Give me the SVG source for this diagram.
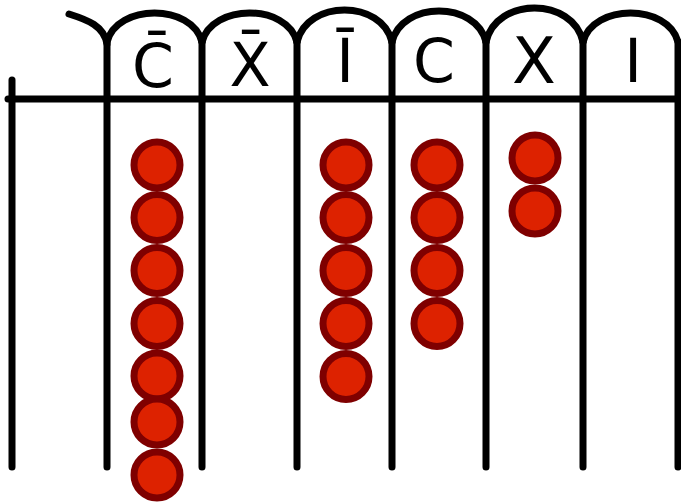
<svg xmlns="http://www.w3.org/2000/svg" width="681" height="502" viewBox="0 0 681 502">
<style>
.ln{fill:none;stroke:#000;stroke-width:7;stroke-linecap:round;stroke-linejoin:round}
.lbl{font-family:"DejaVu Sans","Liberation Sans",sans-serif;font-weight:normal;font-size:60px;fill:#000;text-anchor:middle}
.ctr{fill:#DD2200;stroke:#7F0000;stroke-width:7}
</style>
<rect width="681" height="502" fill="#fff"/>
<g id="board">
<path class="ln" d="M107,42 C117,3.3 192,3.3 202,42"/>
<path class="ln" d="M202,42 C212,3.3 287,3.3 297,42"/>
<path class="ln" d="M297,42 C307,-0.7 382,-0.7 392,42"/>
<path class="ln" d="M392,42 C402,0.6 476,0.6 486,42"/>
<path class="ln" d="M486,42 C496,-3.4 573,-3.4 583,42"/>
<path class="ln" d="M583,42 C593,3.3 668,3.3 678,42"/>
<path class="ln" d="M69,14 C88,20 104,26 107,44"/>
<path class="ln" d="M8,99 H678"/>
<path class="ln" d="M12,80 V467"/>
<path class="ln" d="M107,42 V467"/>
<path class="ln" d="M202,42 V467"/>
<path class="ln" d="M297,42 V467"/>
<path class="ln" d="M392,42 V467"/>
<path class="ln" d="M486,42 V467"/>
<path class="ln" d="M583,42 V467"/>
<path class="ln" d="M678,42 V467"/>
</g>
<g id="labels">
<text class="lbl" x="153" y="87">C̄</text>
<text class="lbl" x="250" y="86">X̄</text>
<text class="lbl" x="345" y="82">Ī</text>
<text class="lbl" x="434" y="82">C</text>
<text class="lbl" x="534" y="83" style="font-size:64px">X</text>
<text class="lbl" x="633" y="82">I</text>
</g>
<g id="counters-C-bar">
<circle class="ctr" cx="157" cy="165" r="23"/>
<circle class="ctr" cx="157" cy="217.5" r="23"/>
<circle class="ctr" cx="157" cy="270.5" r="23"/>
<circle class="ctr" cx="157" cy="323.5" r="23"/>
<circle class="ctr" cx="157" cy="376" r="23"/>
<circle class="ctr" cx="157" cy="422" r="23"/>
<circle class="ctr" cx="157" cy="475" r="23"/>
</g>
<g id="counters-I-bar">
<circle class="ctr" cx="346" cy="165" r="23"/>
<circle class="ctr" cx="346" cy="217.5" r="23"/>
<circle class="ctr" cx="346" cy="270.5" r="23"/>
<circle class="ctr" cx="346" cy="323.5" r="23"/>
<circle class="ctr" cx="346" cy="376.5" r="23"/>
</g>
<g id="counters-C">
<circle class="ctr" cx="437" cy="165" r="23"/>
<circle class="ctr" cx="437" cy="217.5" r="23"/>
<circle class="ctr" cx="437" cy="270.5" r="23"/>
<circle class="ctr" cx="437" cy="323.5" r="23"/>
</g>
<g id="counters-X">
<circle class="ctr" cx="535" cy="158" r="23"/>
<circle class="ctr" cx="535" cy="211" r="23"/>
</g>
</svg>
